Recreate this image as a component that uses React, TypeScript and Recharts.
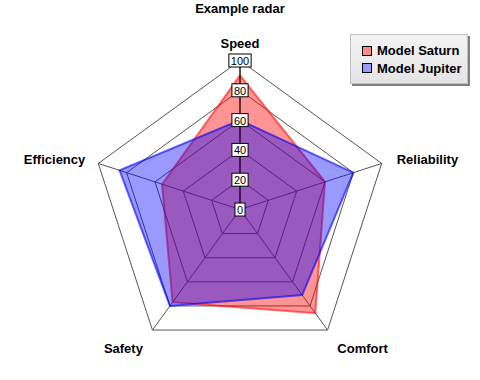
import React from 'react';
import { RadarChart, Radar, PolarGrid, PolarAngleAxis, PolarRadiusAxis, Legend } from 'recharts';

const categories = ['Speed', 'Reliability', 'Comfort', 'Safety', 'Efficiency'];
const saturnValues = [90, 60, 86, 77, 55];
const jupiterValues = [60, 80, 71, 80, 85];
const radiusTicks = [0, 20, 40, 60, 80, 100];
const seriesNames = ['Model Saturn', 'Model Jupiter'];

const data = categories.map((c, i) => ({ axis: c, saturn: saturnValues[i], jupiter: jupiterValues[i] }));

const FONT = "Arial, 'Liberation Sans', sans-serif";
const CX = 240;
const CY = 209.5;
const R = 149;

const AngleTick = (props: any) => {
  const { payload } = props;
  const a = (payload.coordinate * Math.PI) / 180;
  const c = Math.cos(a);
  const s = Math.sin(a);
  const vx = CX + R * c;
  const vy = CY - R * s;
  let anchor: 'start' | 'middle' | 'end' = 'middle';
  let dx = 0;
  let dy = 0;
  if (Math.abs(c) < 0.1) {
    dy = -17.5;
  } else if (s > 0) {
    anchor = c > 0 ? 'start' : 'end';
    dx = c > 0 ? 15 : -13;
    dy = -3.5;
  } else {
    dx = c > 0 ? 35 : -29;
    dy = 18;
  }
  return (
    <text x={vx + dx} y={vy + dy} textAnchor={anchor} dominantBaseline="central" fontFamily={FONT} fontSize={13} fontWeight="bold" fill="#000">
      {payload.value}
    </text>
  );
};

const RadiusTick = (props: any) => {
  const { payload, x, y } = props;
  const label = String(payload.value);
  const w = label.length * 6.1 + 4;
  return (
    <g>
      <rect x={x - w / 2} y={y - 6.5} width={w} height={13} fill="#fff" stroke="#000" strokeWidth={1} />
      <text x={x} y={y + 0.5} textAnchor="middle" dominantBaseline="central" fontFamily={FONT} fontSize={11} fill="#000">
        {label}
      </text>
    </g>
  );
};

const legendColors: Record<string, string> = { 'Model Saturn': '#ff8c8c', 'Model Jupiter': '#9999ff' };

const LegendBox = (props: any) => {
  const payload = [...(props.payload || [])].sort(
    (a: any, b: any) => seriesNames.indexOf(a.value) - seriesNames.indexOf(b.value)
  );
  return (
    <div
      style={{
        width: 118,
        height: 50,
        boxSizing: 'border-box',
        border: '1px solid #c0c0c0',
        background: 'linear-gradient(to bottom, #f4f4f4, #e4e4e4)',
        boxShadow: '2px 2px 0 #808080',
        paddingTop: 7,
        paddingLeft: 11,
        fontFamily: FONT,
        fontSize: 13,
        fontWeight: 'bold',
      }}
    >
      {payload.map((p: any) => (
        <div key={p.value} style={{ display: 'flex', alignItems: 'center', height: 17.4 }}>
          <span
            style={{
              display: 'inline-block',
              width: 10,
              height: 10,
              boxSizing: 'border-box',
              border: '1px solid #000',
              background: legendColors[p.value] || p.color,
              marginRight: 5,
            }}
          />
          <span style={{ lineHeight: '17px' }}>{p.value}</span>
        </div>
      ))}
    </div>
  );
};

export default function App() {
  return (
    <div style={{ position: 'absolute', left: 0, top: 0, width: 480, height: 380, background: '#fff' }}>
      <div
        style={{
          position: 'absolute',
          left: 0,
          top: 0,
          width: 480,
          textAlign: 'center',
          fontFamily: FONT,
          fontSize: 13,
          fontWeight: 'bold',
          lineHeight: '17px',
        }}
      >
        Example radar
      </div>
      <RadarChart width={480} height={380} data={data} cx={CX} cy={CY} outerRadius={R} margin={{ top: 0, right: 0, bottom: 0, left: 0 }}>
        <PolarGrid gridType="polygon" stroke="#555" strokeWidth={1} />
        <PolarAngleAxis dataKey="axis" tick={<AngleTick />} tickLine={false} axisLine={false} />
        <Radar
          name="Model Saturn"
          dataKey="saturn"
          stroke="#ff0000"
          strokeOpacity={0.55}
          strokeWidth={2}
          fill="#ff0000"
          fillOpacity={0.42}
          isAnimationActive={false}
        />
        <Radar
          name="Model Jupiter"
          dataKey="jupiter"
          stroke="#0000ff"
          strokeOpacity={0.6}
          strokeWidth={2}
          fill="#0000ff"
          fillOpacity={0.4}
          isAnimationActive={false}
        />
        <PolarRadiusAxis
          angle={90}
          domain={[0, 100]}
          ticks={radiusTicks}
          tick={<RadiusTick />}
          tickLine={false}
          axisLine={{ stroke: '#000', strokeWidth: 1 }}
          stroke="#000"
        />
        <Legend
          layout="vertical"
          verticalAlign="top"
          align="right"
          content={<LegendBox />}
          wrapperStyle={{ position: 'absolute', left: 350, top: 34, width: 120 }}
        />
      </RadarChart>
    </div>
  );
}
